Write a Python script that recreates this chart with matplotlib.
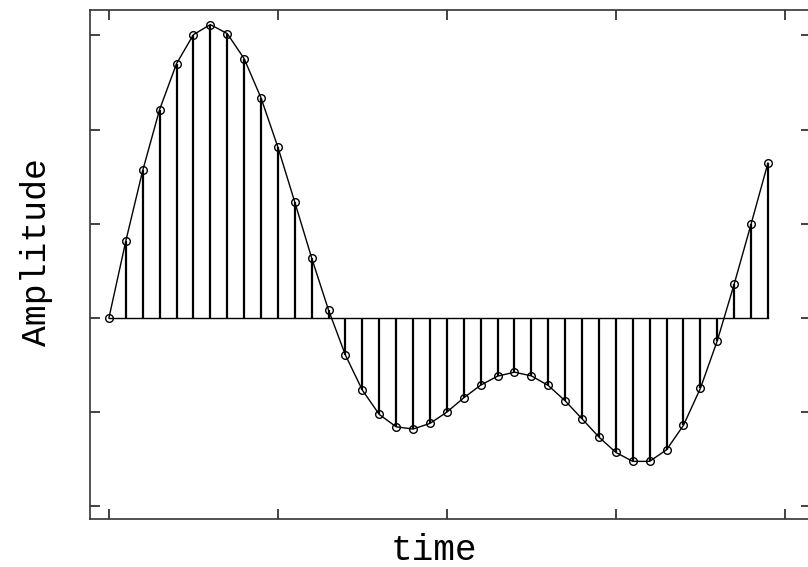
import matplotlib

matplotlib.use("Agg")
import matplotlib.pyplot as plt
import numpy as np

# Sample index and amplitude
n = np.arange(40)
amplitude = [
    0.0, 0.817, 1.566, 2.213, 2.70, 3.008, 3.115, 3.02, 2.754, 2.337,
    1.813, 1.23, 0.636, 0.082, -0.396, -0.767, -1.025, -1.156, -1.18, -1.12,
    -1.0, -0.848, -0.714, -0.618, -0.576, -0.615, -0.717, -0.88, -1.071, -1.265,
    -1.428, -1.523, -1.523, -1.40, -1.141, -0.749, -0.244, 0.357, 0.994, 1.644,
]
xticks = [0, 10, 20, 30, 40]
yticks = [-2, -1, 0, 1, 2, 3]

W, H = 808, 567
fig = plt.figure(figsize=(W / 100, H / 100), dpi=100)
# axes box in pixels: left 90, right ~811 (runs past the edge), top 10, bottom 519
ax = fig.add_axes([90 / W, (H - 519) / H, (811 - 90) / W, (519 - 10) / H])

markerline, stemlines, baseline = ax.stem(n, amplitude, linefmt="k-", markerfmt="none", basefmt="k-")
stemlines.set_linewidth(1.6)
baseline.set_linewidth(1.0)
ax.plot(n, amplitude, color="black", linewidth=1.0, marker="o", markersize=5.5,
        markerfacecolor="none", markeredgecolor="black", markeredgewidth=1.0)

ax.set_xlim(-1.12, 41.55)
ax.set_ylim(-2.135, 3.27)
ax.set_xticks(xticks)
ax.set_yticks(yticks)
ax.tick_params(direction="in", length=7, width=1.2, top=True, right=True,
               labelbottom=False, labelleft=False, colors="#222222")
for side in ax.spines.values():
    side.set_linewidth(1.2)
    side.set_color("#333333")

fig.text(434 / W, 1 - 550 / H, "time", family="Liberation Mono", fontsize=26,
         ha="center", va="center")
fig.text(37 / W, 1 - 252 / H, "Amplitude", family="Liberation Mono", fontsize=25,
         ha="center", va="center", rotation=90)

fig.savefig("out.png", dpi=100)
